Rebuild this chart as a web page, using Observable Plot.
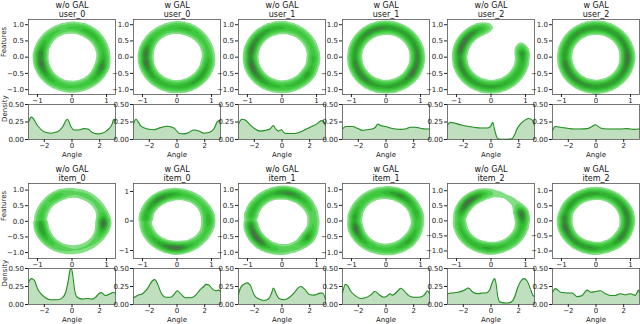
<!DOCTYPE html>
<html><head><meta charset="utf-8">
<script src="https://cdn.jsdelivr.net/npm/d3@7"></script>
<script src="https://cdn.jsdelivr.net/npm/@observablehq/plot@0.6"></script>
<style>
html,body{margin:0;padding:0;background:#fff;}
#fig{position:relative;width:640px;height:324px;overflow:hidden;font-family:"DejaVu Sans",sans-serif;background:#fff;}
#fig svg{position:absolute;overflow:visible;max-width:none;background:none;}
</style></head><body><div id="fig"></div>
<script>
// ---- data: angle density curves ----
const user0WoAngle = [-3.14,-2.93,-2.49,-2.02,-1.53,-1.05,-0.69,-0.33,-0.09,0.14,0.5,0.86,1.15,1.46,1.82,2.18,2.54,2.9,3.02,3.14];
const user0WoDensity = [0.25,0.32,0.2,0.11,0.09,0.11,0.175,0.29,0.19,0.135,0.135,0.155,0.15,0.10,0.08,0.09,0.13,0.22,0.29,0.27];
const user0WAngle = [-3.14,-2.97,-2.6,-2.13,-1.65,-1.18,-0.7,-0.22,0.14,0.5,0.86,1.22,1.58,1.94,2.3,2.66,2.95,3.14];
const user0WDensity = [0.22,0.29,0.19,0.15,0.14,0.17,0.19,0.165,0.09,0.08,0.10,0.135,0.12,0.09,0.10,0.15,0.26,0.27];
const user1WoAngle = [-3.14,-2.9,-2.66,-2.3,-1.94,-1.58,-1.22,-0.86,-0.62,-0.45,-0.26,-0.02,0.1,0.34,0.7,1.06,1.42,1.78,2.14,2.5,2.86,3.05,3.14];
const user1WoDensity = [0.22,0.29,0.28,0.21,0.15,0.12,0.13,0.15,0.2,0.15,0.12,0.14,0.105,0.085,0.085,0.09,0.115,0.15,0.185,0.22,0.27,0.245,0.2];
const user1WAngle = [-3.14,-2.9,-2.42,-2.06,-1.7,-1.36,-1.0,-0.76,-0.59,-0.4,-0.04,0.32,0.68,1.04,1.4,1.76,2.12,2.48,2.84,3.14];
const user1WDensity = [0.15,0.185,0.185,0.16,0.13,0.14,0.15,0.175,0.22,0.2,0.185,0.165,0.15,0.145,0.15,0.175,0.175,0.16,0.15,0.15];
const user2WoAngle = [-3.14,-2.92,-2.56,-2.2,-1.72,-1.24,-0.76,-0.28,-0.04,0.13,0.25,0.37,0.49,0.68,1.16,1.52,1.69,1.88,2.12,2.48,2.72,2.96,3.14];
const user2WoDensity = [0.21,0.245,0.23,0.21,0.19,0.175,0.165,0.165,0.185,0.245,0.15,0.06,0.01,0.004,0.004,0.01,0.06,0.15,0.22,0.28,0.3,0.28,0.2];
const user2WAngle = [-3.14,-2.93,-2.56,-2.08,-1.6,-1.12,-0.64,-0.28,-0.04,0.32,0.8,1.28,1.76,2.24,2.72,3.14];
const user2WDensity = [0.13,0.185,0.175,0.16,0.15,0.15,0.155,0.185,0.21,0.165,0.15,0.15,0.15,0.155,0.145,0.15];
const item0WoAngle = [-3.14,-2.93,-2.73,-2.49,-2.25,-1.89,-1.53,-1.05,-0.69,-0.45,-0.26,-0.14,-0.04,0.05,0.19,0.38,0.74,1.1,1.46,1.7,1.94,2.11,2.42,2.78,3.02,3.14];
const item0WoDensity = [0.31,0.36,0.34,0.22,0.15,0.09,0.065,0.065,0.093,0.17,0.34,0.48,0.5,0.41,0.2,0.1,0.075,0.084,0.075,0.1,0.15,0.165,0.126,0.15,0.17,0.15];
const item0WAngle = [-3.14,-2.85,-2.49,-2.13,-1.77,-1.6,-1.41,-1.17,-0.81,-0.45,-0.17,0.02,0.26,0.62,0.98,1.34,1.65,1.94,2.1,2.3,2.54,2.78,3.02,3.14];
const item0WDensity = [0.093,0.126,0.15,0.22,0.33,0.345,0.29,0.17,0.1,0.1,0.15,0.19,0.15,0.093,0.093,0.126,0.2,0.25,0.28,0.27,0.22,0.19,0.2,0.18];
const item1WoAngle = [-3.14,-3.0,-2.76,-2.52,-2.27,-2.03,-1.66,-1.3,-0.94,-0.75,-0.62,-0.45,-0.21,0.15,0.51,0.88,1.17,1.36,1.65,1.97,2.33,2.7,2.94,3.14];
const item1WoDensity = [0.14,0.23,0.28,0.3,0.26,0.14,0.075,0.056,0.084,0.16,0.23,0.16,0.084,0.065,0.093,0.16,0.23,0.25,0.21,0.14,0.13,0.155,0.16,0.07];
const item1WAngle = [-3.14,-2.93,-2.76,-2.57,-2.2,-1.84,-1.48,-1.12,-0.8,-0.51,-0.15,0.1,0.29,0.46,0.82,1.07,1.31,1.67,2.03,2.4,2.76,3.0,3.14];
const item1WDensity = [0.16,0.28,0.26,0.19,0.12,0.084,0.093,0.13,0.18,0.14,0.1,0.12,0.15,0.13,0.18,0.225,0.19,0.12,0.1,0.1,0.13,0.19,0.15];
const item2WoAngle = [-3.14,-2.85,-2.37,-1.89,-1.65,-1.3,-0.94,-0.58,-0.34,-0.1,0.1,0.27,0.38,0.5,0.67,1.1,1.46,1.7,1.94,2.18,2.38,2.6,2.84,3.03,3.14];
const item2WoDensity = [0.15,0.16,0.17,0.2,0.23,0.17,0.15,0.16,0.16,0.2,0.31,0.36,0.27,0.1,0.033,0.02,0.033,0.1,0.24,0.33,0.36,0.33,0.22,0.126,0.11];
const item2WAngle = [-3.14,-2.93,-2.56,-2.08,-1.72,-1.36,-1.0,-0.64,-0.36,-0.04,0.32,0.68,1.04,1.4,1.76,2.12,2.48,2.84,3.08,3.14];
const item2WDensity = [0.17,0.22,0.17,0.16,0.16,0.11,0.126,0.2,0.17,0.18,0.19,0.15,0.126,0.126,0.15,0.135,0.15,0.126,0.2,0.17];

const methods = ["w/o GAL", "w GAL"];
const rowNames = [["user_0","user_0","user_1","user_1","user_2","user_2"],
                  ["item_0","item_0","item_1","item_1","item_2","item_2"]];
const angles = [[user0WoAngle,user0WAngle,user1WoAngle,user1WAngle,user2WoAngle,user2WAngle],
                [item0WoAngle,item0WAngle,item1WoAngle,item1WAngle,item2WoAngle,item2WAngle]];
const densities = [[user0WoDensity,user0WDensity,user1WoDensity,user1WDensity,user2WoDensity,user2WDensity],
                   [item0WoDensity,item0WDensity,item1WoDensity,item1WDensity,item2WoDensity,item2WDensity]];
const ringYDomains = [[[-1.15,1.16],[-1.15,1.16],[-1.15,1.16],[-1.15,1.16],[-1.15,1.16],[-1.15,1.16]],
                      [[-1.19,1.21],[-1.27,1.27],[-1.2,1.2],[-1.2,1.2],[-1.25,1.24],[-1.25,1.24]]];
const ringYTicksDec = [-1,-0.5,0,0.5,1];
const ringYTicksInt = [-1,0,1];
const ringXTicks = [-1,0,1];
const densXTicks = [-2,0,2];
const densYTicks = [0,0.25,0.5];

// ---- layout ----
const colX = [28, 132.8, 237.6, 342.4, 447.2, 552];
const ringTop = [19, 183];
const densTop = [104, 268];
const densH = [35, 36];
const BW = 87, RH = 75;
const fig = document.getElementById("fig");
const thresholds = [0.04, 0.12, 0.25, 0.4, 0.55, 0.7, 0.85];
const levelColors = ["#84de84", "#55d255", "#3dc83d", "#34b834", "#30a230", "#3a883a", "#4a704a"];
const baseStyle = {background: "none", fontFamily: "DejaVu Sans, sans-serif", fontSize: "7px", color: "#222", overflow: "visible"};

function interp(xs, ys, t) {
  if (t <= xs[0]) return ys[0];
  for (let i = 1; i < xs.length; i++) {
    if (t <= xs[i]) { const a = (t - xs[i-1]) / (xs[i] - xs[i-1]); return ys[i-1] + a * (ys[i] - ys[i-1]); }
  }
  return ys[ys.length - 1];
}

function place(svg, left, top) {
  svg.style.left = left + "px"; svg.style.top = top + "px"; fig.appendChild(svg);
}

for (let r = 0; r < 2; r++) {
  for (let c = 0; c < 6; c++) {
    const A = angles[r][c], D = densities[r][c];
    const dmax = d3.max(D);
    const yd = ringYDomains[r][c];
    const intTicks = (r === 1 && c === 1);
    const r0 = 0.91, sig = 0.09;
    const value = (x, y) => {
      const rr = Math.hypot(x, y);
      const d = interp(A, D, Math.atan2(y, x)) / dmax;
      return d * Math.exp(-0.5 * ((rr - r0) / sig) ** 2);
    };
    const mL = 30, mR = 2, mT = 20, mB = 12;
    const ringMarks = [
      Plot.contour({fill: value, x1: -1.26, x2: 1.26, y1: yd[0], y2: yd[1], thresholds, stroke: "none"}),
      Plot.frame({stroke: "#555", strokeWidth: 0.8}),
      Plot.axisX({ticks: ringXTicks, tickSize: 3, tickPadding: 0.5, fontSize: 7, label: null, tickFormat: d3.format("d")}),
      Plot.axisY({ticks: intTicks ? ringYTicksInt : ringYTicksDec, tickSize: 3, tickPadding: 1.5, fontSize: 7, label: null,
                  tickFormat: intTicks ? d3.format("d") : d3.format(".1f")}),
      Plot.text([methods[c % 2] + "\n" + rowNames[r][c]], {frameAnchor: "top", lineAnchor: "bottom", dy: -2.5, fontSize: 8, lineHeight: 1.1, fill: "#111"})
    ];
    if (c === 0) ringMarks.push(Plot.text(["Features"], {frameAnchor: "left", rotate: -90, dx: -25, fontSize: 7, fill: "#222"}));
    const ring = Plot.plot({
      width: BW + mL + mR, height: RH + mT + mB,
      marginLeft: mL, marginRight: mR, marginTop: mT, marginBottom: mB,
      style: baseStyle,
      x: {domain: [-1.26, 1.26]}, y: {domain: yd},
      color: {type: "linear", domain: thresholds, range: levelColors},
      marks: ringMarks
    });
    place(ring, colX[c] - mL, ringTop[r] - mT);

    const rows = A.map((a, i) => ({angle: a, density: D[i]}));
    const dmL = 30, dmR = 2, dmT = 6, dmB = 22;
    const densMarks = [
      Plot.areaY(rows, {x: "angle", y: "density", fill: "#008000", fillOpacity: 0.25, curve: "monotone-x"}),
      Plot.lineY(rows, {x: "angle", y: "density", stroke: "#238f23", strokeWidth: 1.1, curve: "monotone-x"}),
      Plot.frame({stroke: "#555", strokeWidth: 0.8}),
      Plot.axisX({ticks: densXTicks, tickSize: 3, tickPadding: 1, fontSize: 7, label: null, tickFormat: d3.format("d")}),
      Plot.axisY({ticks: densYTicks, tickSize: 3, tickPadding: 1.5, fontSize: 7, label: null, tickFormat: d3.format(".2f")}),
      Plot.text(["Angle"], {frameAnchor: "bottom", lineAnchor: "top", dy: 12.5, fontSize: 7, fill: "#222"})
    ];
    if (c === 0) densMarks.push(Plot.text(["Density"], {frameAnchor: "left", rotate: -90, dx: -24, fontSize: 7, fill: "#222"}));
    const dens = Plot.plot({
      width: BW + dmL + dmR, height: densH[r] + dmT + dmB,
      marginLeft: dmL, marginRight: dmR, marginTop: dmT, marginBottom: dmB,
      style: baseStyle,
      x: {domain: [-Math.PI, Math.PI]}, y: {domain: [0, 0.5]},
      marks: densMarks
    });
    place(dens, colX[c] - dmL, densTop[r] - dmT);
  }
}
</script>
</body></html>
